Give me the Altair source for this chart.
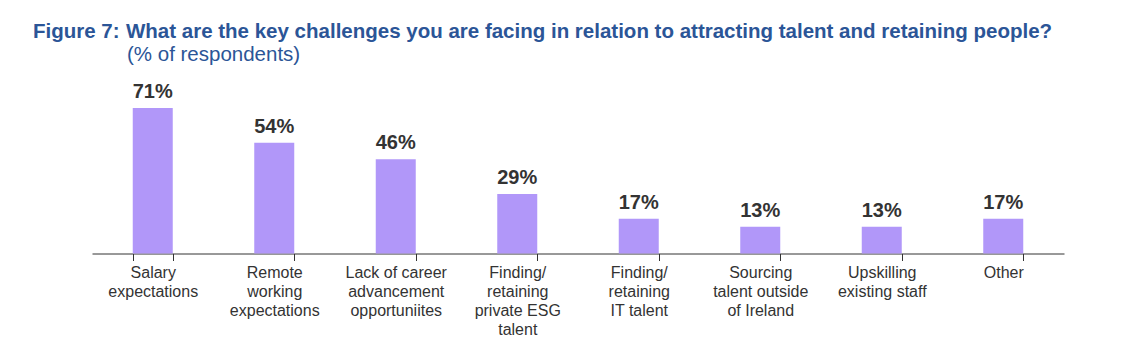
import altair as alt
import pandas as pd

categories = [
    "Salary|expectations",
    "Remote|working|expectations",
    "Lack of career|advancement|opportuniites",
    "Finding/|retaining|private ESG|talent",
    "Finding/|retaining|IT talent",
    "Sourcing|talent outside|of Ireland",
    "Upskilling|existing staff",
    "Other",
]
values = [71, 54, 46, 29, 17, 13, 13, 17]
value_labels = ["71%", "54%", "46%", "29%", "17%", "13%", "13%", "17%"]

fig_label = ["Figure 7:"]
title_text = ["What are the key challenges you are facing in relation to attracting talent and retaining people?"]
subtitle_text = ["(% of respondents)"]

df = pd.DataFrame({"cat": categories, "val": values, "lab": value_labels})

TITLE_BLUE = "#2B5597"
BAR = "#B197F9"
TXT = "#333333"

x = alt.X(
    "cat:N",
    sort=categories,
    title=None,
    scale=alt.Scale(paddingInner=0.67, paddingOuter=0.335),
    axis=alt.Axis(
        labelAngle=0,
        labelExpr="split(datum.label, '|')",
        labelFont="Liberation Sans",
        labelFontSize=16,
        labelColor=TXT,
        labelLineHeight=19,
        labelPadding=4,
        labelBaseline="top",
        domainColor="#333333",
        tickColor="#333333",
        tickSize=7,
        tickBand="extent",
        grid=False,
    ),
)
y = alt.Y(
    "val:Q",
    scale=alt.Scale(domain=[0, 90]),
    axis=None,
)

bars = alt.Chart(df).mark_bar(color=BAR, size=40).encode(x=x, y=y)
labels = alt.Chart(df).mark_text(
    font="Liberation Sans", fontSize=20, fontWeight="bold", color=TXT,
    baseline="alphabetic", dy=-10,
).encode(x=alt.X("cat:N", sort=categories), y="val:Q", text="lab:N")

fig = alt.Chart(pd.DataFrame({"t": fig_label})).mark_text(
    font="Liberation Sans", fontSize=20.5, fontWeight="bold", color=TITLE_BLUE,
    align="left", baseline="alphabetic",
).encode(x=alt.value(-59), y=alt.value(-31), text="t:N")

ttl = alt.Chart(pd.DataFrame({"t": title_text})).mark_text(
    font="Liberation Sans", fontSize=20.5, fontWeight="bold", color=TITLE_BLUE,
    align="left", baseline="alphabetic",
).encode(x=alt.value(34), y=alt.value(-31), text="t:N")

sub = alt.Chart(pd.DataFrame({"t": subtitle_text})).mark_text(
    font="Liberation Sans", fontSize=20.5, color=TITLE_BLUE,
    align="left", baseline="alphabetic",
).encode(x=alt.value(35), y=alt.value(-8), text="t:N")

chart = alt.layer(bars, labels, fig, ttl, sub).properties(
    width=972,
    height=184.5,
    padding={"left": 25, "top": 14, "right": 5, "bottom": 5},
    background="white",
).configure_view(strokeWidth=0)

chart.save("out.html", embed_options={"renderer": "svg", "actions": False})
